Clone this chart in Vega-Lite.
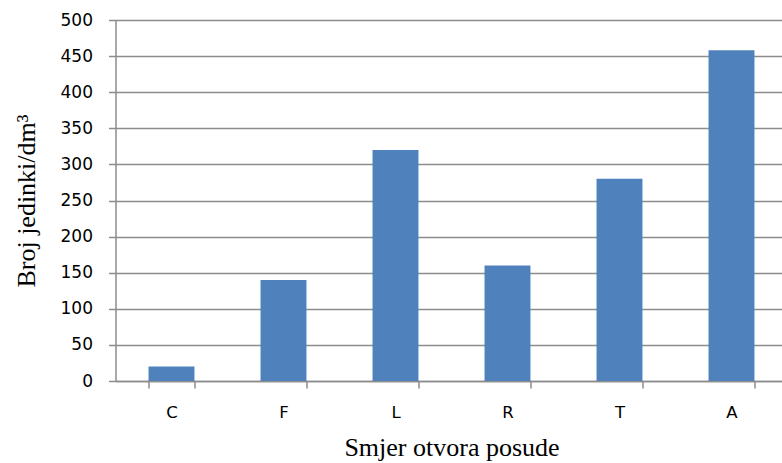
{
  "$schema": "https://vega.github.io/schema/vega-lite/v6.json",
  "width": 672,
  "height": 361,
  "autosize": {"type": "none"},
  "padding": {"left": 115.5, "top": 20, "right": 0, "bottom": 82},
  "background": "white",
  "config": {"view": {"stroke": null}},
  "data": {"values": [
    {"smjer": "C", "broj": 20},
    {"smjer": "F", "broj": 140},
    {"smjer": "L", "broj": 320},
    {"smjer": "R", "broj": 160},
    {"smjer": "T", "broj": 280},
    {"smjer": "A", "broj": 458}
  ]},
  "mark": {"type": "bar", "color": "#4F81BD"},
  "encoding": {
    "x": {
      "field": "smjer", "type": "nominal", "sort": null,
      "scale": {"paddingInner": 0.59, "paddingOuter": 0.295},
      "axis": {
        "title": "Smjer otvora posude",
        "titleFont": "Liberation Serif", "titleFontSize": 26, "titleFontWeight": "normal", "titleColor": "#000000", "titlePadding": 14,
        "labelAngle": 0, "labelFont": "DejaVu Sans", "labelFontSize": 16.5, "labelColor": "#000000", "labelPadding": 16,
        "tickBand": "extent", "tickSize": 7, "tickColor": "#8c8c8c", "tickWidth": 1.5,
        "domainColor": "#8c8c8c", "domainWidth": 1.5, "grid": false
      }
    },
    "y": {
      "field": "broj", "type": "quantitative",
      "scale": {"domain": [0, 500], "nice": false},
      "axis": {
        "title": "Broj jedinki/dm³",
        "titleFont": "Liberation Serif", "titleFontSize": 26, "titleFontWeight": "normal", "titleColor": "#000000", "titlePadding": 21,
        "values": [0, 50, 100, 150, 200, 250, 300, 350, 400, 450, 500],
        "labelFont": "DejaVu Sans", "labelFontSize": 17, "labelColor": "#000000", "labelPadding": 16,
        "tickSize": 7, "tickColor": "#8c8c8c", "tickWidth": 1.5,
        "domainColor": "#8c8c8c", "domainWidth": 1.5,
        "grid": true, "gridColor": "#8c8c8c", "gridWidth": 1.5
      }
    }
  }
}
